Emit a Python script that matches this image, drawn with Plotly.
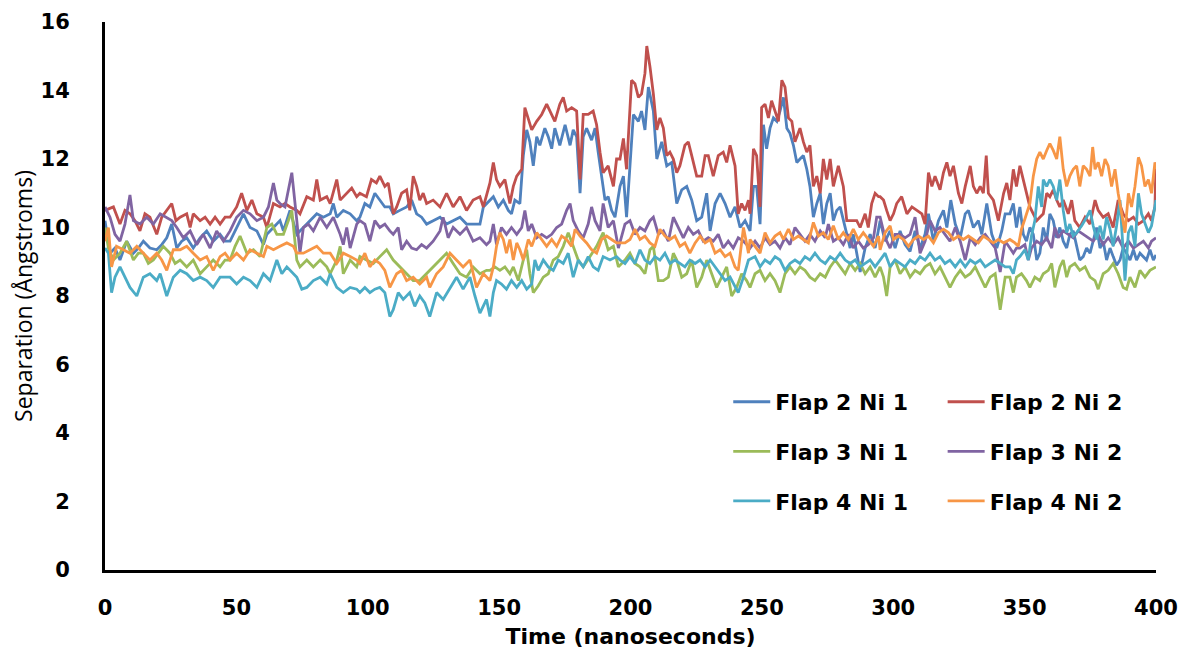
import plotly.graph_objects as go

# ---------------- data (time in ns, separation in Angstrom) ----------------
t_f2n1 = [0, 1.9, 3.8, 5.7, 8.25, 10.8, 12.7, 14.6, 17.1, 19.7, 21.6, 23.5, 25.4, 27.3, 29.2, 31.1, 33.6, 36.2, 38.7, 41.2, 43.8, 45.7,
          47.6, 50.1, 52.7, 55.2, 57.8, 60.3, 61.6, 64.1, 66.6, 67.9, 70.4, 73.0, 75.5, 78.1, 80.6, 83.1, 85.7, 86.9, 88.2, 90.7, 93.3, 95.8,
          97.0, 98.9, 100.8, 102.7, 104.6, 106.5, 108.4, 109.7, 112.2, 114.8, 116.7, 118.6, 120.5, 122.4, 124.9, 127.5, 130.0, 132.5, 135.1, 137.6, 140.1, 142.7, 144.0,
          146.5, 147.8, 149.7, 151.6, 153.5, 154.7, 156.0, 157.9, 159.2, 160.5, 161.7, 163.0, 164.3, 165.5, 167.4, 168.7, 170.0, 171.2, 173.1, 175.1, 177.0, 178.2, 179.5, 180.8, 182.0, 183.3, 185.2, 186.5, 187.7, 189.0, 190.3, 191.5, 192.8, 194.1, 195.4,
          196.0, 197.3, 198.5, 201.1, 203.0, 204.2, 205.5, 206.8, 208.7, 210.0, 211.9, 213.8, 215.7, 217.6, 219.5, 221.4, 223.3, 225.2, 227.1, 229.0, 230.3, 232.2, 234.1, 236.0, 237.9, 239.8, 241.7, 243.6,
          245.5, 246.8, 248.0, 249.3, 250.6, 251.8, 253.1, 254.4, 255.7, 256.9, 258.2, 259.5, 260.7, 262.0, 263.3, 264.5, 265.8, 267.1, 268.3, 269.6, 270.9, 272.2, 273.4, 274.7, 276.0, 277.2, 278.5, 279.8, 281.0, 282.3, 283.6, 284.8, 286.1, 287.4, 289.3, 291.2, 293.1,
          295.0, 296.9, 298.8, 300.7, 302.6, 304.5, 306.4, 308.3, 310.2, 312.1, 313.4, 315.3, 317.2, 319.1, 320.4, 321.9, 323.6, 325.5, 327.4, 328.6, 330.5, 332.4, 333.7, 335.6, 337.5, 339.4, 341.3, 342.6,
          344.4, 345.7, 346.9, 348.2, 349.5, 350.7, 352.0, 353.3, 354.6, 355.8, 357.1, 358.4, 359.6, 360.9, 362.2, 363.4, 364.7, 366.0, 367.2, 368.5, 369.8, 371.0, 372.3, 373.6, 374.9, 376.1, 377.4, 378.7, 379.9, 381.2, 382.5, 383.7, 385.0, 386.3, 387.5, 388.8, 390.1, 391.4, 392.6, 393.9, 395.2, 396.4, 397.7, 399.0, 400.0]
v_f2n1 = [10.2, 9.25, 9.4, 9.05, 9.6, 9.25, 9.4, 9.6, 9.4, 9.35, 9.5, 9.7, 10.1, 9.4, 9.6, 9.7, 9.4, 9.7, 9.9, 9.6, 9.8, 9.6,
          9.6, 10.0, 10.4, 10.0, 9.9, 9.5, 9.8, 10.0, 10.2, 9.9, 10.5, 9.8, 10.0, 10.2, 10.4, 10.3, 10.4, 10.7, 10.3, 10.5, 10.4, 10.2,
          10.3, 10.7, 10.6, 11.0, 10.8, 10.6, 10.6, 10.4, 10.5, 10.6, 10.8, 10.4, 10.3, 10.1, 10.2, 10.3, 10.1, 10.2, 10.3, 10.1, 10.1, 10.1, 10.6,
          10.8, 10.9, 10.6, 10.8, 10.5, 10.4, 10.8, 10.7, 12.1, 12.85, 12.5, 11.8, 12.65, 12.4, 12.9, 12.65, 12.3, 12.9, 12.4, 13.0, 12.4, 12.85, 12.65, 11.0, 12.65, 12.9, 12.55, 12.9, 12.2, 11.5, 10.8, 10.9, 10.5, 10.3, 11.0,
          11.2, 11.5, 10.3, 13.3, 13.1, 13.4, 12.85, 14.1, 13.4, 12.0, 12.5, 11.8, 11.9, 10.7, 11.1, 11.2, 10.8, 10.2, 10.3, 11.0, 9.9, 10.7, 11.0, 10.7, 10.3, 10.6, 10.0, 10.2,
          9.9, 11.2, 11.2, 10.1, 13.0, 12.3, 12.9, 13.2, 13.1, 13.4, 13.8, 12.9, 12.75, 12.4, 11.9, 12.0, 12.1, 11.7, 11.2, 10.3, 10.7, 11.0, 10.1, 10.7, 11.0, 10.2, 10.5, 10.6, 10.2, 9.8, 9.4, 9.8, 9.25, 8.7, 9.4, 9.8, 9.4,
          10.2, 9.6, 9.9, 9.4, 9.9, 9.5, 9.3, 9.9, 9.4, 9.8, 10.4, 9.6, 10.2, 10.5, 10.0, 10.8, 10.1, 9.7, 10.4, 10.5, 10.0, 10.2, 9.8, 10.7, 9.8, 9.4, 9.9, 10.4,
          10.4, 10.7, 10.0, 10.6, 9.8, 9.6, 10.0, 9.8, 9.05, 9.25, 10.0, 9.6, 10.4, 10.2, 9.7, 10.0, 9.6, 9.4, 9.8, 9.9, 9.5, 9.05, 9.15, 9.4, 9.25, 9.6, 10.0, 9.4, 9.6, 9.05, 9.4, 9.15, 8.9, 9.05, 9.4, 9.25, 9.05, 9.35, 9.05, 9.25, 9.15, 9.05, 9.35, 9.05, 9.2]

t_f2n2 = [0, 3.2, 5.7, 7.6, 9.5, 11.4, 13.3, 15.2, 17.1, 19.7, 21.6, 23.5, 25.4, 27.0, 28.6, 31.1, 32.4, 33.6, 36.2, 38.1, 40.0, 41.9, 43.8, 45.7,
          47.6, 50.1, 52.0, 54.0, 55.9, 57.8, 60.3, 61.6, 64.1, 66.6, 68.5, 70.4, 73.0, 74.2, 76.8, 79.3, 80.6, 81.9, 84.4, 85.7, 88.2, 89.5, 92.0, 93.9, 95.8,
          97.0, 99.5, 101.4, 103.3, 104.6, 106.5, 107.8, 109.7, 111.0, 112.9, 114.8, 116.0, 117.3, 118.6, 119.8, 121.1, 122.4, 124.9, 127.5, 130.0, 132.5, 135.1, 137.6, 140.1, 142.7, 144.0,
          146.5, 147.8, 149.0, 150.3, 152.2, 154.1, 155.4, 156.7, 158.6, 159.8, 161.1, 162.4, 164.3, 166.2, 168.1, 170.0, 171.2, 173.1, 174.4, 175.7, 177.6, 179.5, 180.8, 182.0, 183.9, 185.8, 187.1, 188.4, 189.6, 191.5, 193.5, 194.7,
          196.0, 197.3, 198.5, 200.4, 201.7, 203.0, 204.2, 205.5, 206.2, 207.4, 208.7, 210.0, 211.2, 212.5, 213.8, 215.0, 216.3, 217.6, 218.8, 220.7, 222.0, 223.3, 225.2, 227.1, 228.4, 229.6, 231.5, 233.4, 235.3, 236.6, 237.9, 239.8, 241.0, 242.3, 243.6, 244.9,
          245.5, 246.8, 248.0, 249.3, 249.9, 251.2, 252.5, 253.7, 255.0, 256.3, 257.6, 258.8, 260.1, 261.4, 262.6, 264.5, 265.8, 267.1, 268.3, 269.6, 270.9, 272.2, 273.4, 274.7, 276.0, 277.2, 279.1, 281.0, 282.3, 284.2, 286.1, 287.4, 289.3, 290.5, 291.8, 293.1, 294.4,
          295.0, 296.3, 297.5, 298.8, 300.1, 301.3, 303.2, 305.2, 307.1, 309.0, 310.9, 312.1, 313.4, 314.7, 315.9, 317.8, 319.1, 320.4, 321.6, 322.9, 324.8, 326.1, 327.4, 329.3, 330.5, 331.8, 333.1, 334.3, 335.4, 336.2, 338.1, 340.0, 342.0, 343.2,
          344.4, 345.7, 346.9, 348.2, 349.5, 350.7, 352.0, 353.3, 354.6, 355.8, 357.1, 358.4, 359.6, 360.9, 362.2, 363.4, 364.7, 366.6, 367.9, 369.1, 371.0, 373.0, 374.9, 376.8, 378.0, 379.9, 381.8, 383.7, 385.6, 387.5, 389.5, 391.4, 393.3, 395.2, 397.1, 398.3, 399.6, 400.0]
v_f2n2 = [10.5, 10.6, 10.1, 10.5, 10.4, 10.2, 9.9, 10.4, 10.3, 9.8, 10.3, 10.5, 10.7, 10.2, 10.3, 10.4, 10.0, 10.4, 10.2, 10.3, 10.1, 10.3, 10.1, 10.3,
          10.3, 10.6, 11.0, 10.5, 10.8, 10.4, 10.3, 10.0, 10.7, 10.6, 10.7, 10.6, 10.5, 10.4, 10.9, 10.8, 11.4, 10.8, 10.9, 10.7, 11.4, 10.8, 11.0, 11.15, 10.9,
          11.0, 10.9, 11.4, 11.3, 11.5, 11.2, 11.3, 10.4, 10.6, 11.0, 11.1, 10.5, 11.5, 11.2, 10.8, 11.0, 10.7, 10.8, 10.6, 11.0, 10.6, 10.9, 10.5, 10.8, 10.9, 10.6,
          11.3, 11.9, 11.4, 11.2, 11.4, 10.7, 11.2, 11.5, 11.7, 13.5, 13.2, 12.85, 13.1, 13.3, 13.6, 13.3, 13.1, 13.6, 13.8, 13.4, 13.5, 13.4, 11.4, 13.3, 13.3, 13.4, 13.0, 12.2, 11.6, 11.8, 11.2, 12.0,
          12.0, 12.6, 11.7, 14.3, 14.2, 13.8, 13.9, 14.5, 15.3, 14.7, 13.9, 12.85, 13.2, 12.9, 12.1, 12.2, 12.0, 11.6, 11.8, 12.4, 12.5, 12.1, 11.5, 11.5, 12.1, 12.1, 11.5, 12.1, 12.2, 11.9, 12.4, 11.8, 10.4, 10.7, 10.5, 10.8,
          10.4, 12.3, 12.1, 10.6, 13.5, 13.6, 13.2, 13.7, 13.4, 13.1, 14.3, 14.1, 13.2, 13.1, 12.5, 12.9, 12.5, 12.2, 12.4, 11.2, 11.5, 11.0, 12.0, 11.4, 12.0, 11.2, 11.8, 11.2, 10.2, 10.2, 10.2, 10.0, 10.4, 10.0, 10.7, 11.0, 10.9,
          10.9, 10.8, 10.5, 10.2, 10.4, 10.7, 10.9, 10.4, 10.6, 10.5, 10.4, 10.1, 11.6, 11.2, 11.5, 11.1, 11.6, 11.9, 11.5, 11.8, 11.0, 10.7, 11.2, 11.8, 11.2, 11.0, 11.2, 11.0, 12.1, 11.0, 10.8, 10.2, 11.0, 11.3,
          10.8, 11.7, 11.2, 11.8, 11.4, 11.0, 10.6, 10.4, 10.2, 10.3, 10.4, 11.0, 10.9, 11.1, 10.8, 10.6, 10.8, 10.4, 10.8, 10.2, 10.0, 10.3, 10.1, 10.8, 10.5, 10.3, 10.4, 10.0, 10.8, 10.4, 10.2, 10.3, 10.1, 10.2, 10.4, 10.2, 10.6, 11.9]

t_f3n1 = [0, 1.3, 3.2, 5.7, 8.25, 10.8, 12.7, 14.6, 16.5, 18.4, 20.3, 22.2, 24.7, 26.7, 28.6, 31.1, 33.6, 36.2, 38.7, 41.2, 43.8, 45.7,
          47.6, 49.5, 51.4, 54.0, 56.5, 59.0, 61.6, 63.5, 65.4, 67.9, 69.8, 71.1, 73.0, 74.2, 76.8, 79.3, 81.9, 84.4, 85.7, 88.2, 89.5, 90.7, 93.3, 95.8,
          97.0, 99.5, 102.1, 104.6, 107.2, 109.7, 112.2, 114.8, 117.3, 119.8, 122.4, 124.9, 127.5, 130.0, 132.5, 135.1, 137.6, 140.1, 142.7, 145.2,
          146.5, 148.4, 150.3, 152.2, 154.1, 155.4, 157.3, 159.2, 160.5, 161.7, 163.0, 164.9, 166.8, 168.7, 170.6, 172.5, 174.4, 176.3, 178.2, 180.1, 182.0, 184.6, 187.1, 189.6, 191.5, 193.5, 195.4,
          197.9, 199.8, 201.7, 203.6, 205.5, 207.4, 208.7, 210.6, 212.5, 214.4, 216.3, 217.6, 219.5, 221.4, 223.3, 225.2, 227.1, 229.0, 230.9, 232.8, 234.7, 236.6, 238.5, 240.4, 242.3, 244.2,
          245.5, 247.4, 249.3, 251.2, 253.1, 255.0, 256.9, 258.8, 260.7, 262.6, 264.5, 266.4, 268.3, 270.2, 272.2, 274.1, 276.0, 277.9, 279.8, 281.7, 283.6, 285.5, 287.4, 289.3, 291.2, 293.1,
          295.0, 296.3, 297.5, 298.8, 300.7, 302.6, 304.5, 306.4, 308.3, 310.2, 312.1, 314.0, 315.9, 317.8, 319.7, 321.6, 323.6, 325.5, 327.4, 329.3, 331.2, 333.1, 335.0, 336.9, 338.8, 340.7, 342.6,
          344.4, 345.7, 346.9, 348.8, 350.7, 352.0, 353.9, 355.8, 357.1, 359.0, 360.3, 361.5, 363.4, 364.7, 366.0, 367.2, 369.1, 371.0, 373.0, 374.9, 376.8, 378.0, 379.9, 381.8, 383.7, 385.6, 387.5, 388.8, 390.1, 392.0, 393.9, 395.8, 397.7, 400.0]
v_f3n1 = [10.0, 9.4, 9.05, 9.25, 9.6, 9.05, 9.25, 9.25, 8.95, 9.05, 9.25, 9.45, 9.25, 8.95, 9.05, 8.85, 9.05, 8.65, 8.85, 9.05, 8.85, 9.05,
          9.05, 9.45, 9.75, 9.25, 9.35, 9.15, 10.0, 10.1, 9.8, 9.8, 10.2, 10.5, 9.05, 8.85, 9.05, 8.85, 9.05, 8.85, 8.65, 9.05, 9.45, 8.65, 9.05, 8.85,
          9.15, 9.05, 8.95, 9.15, 9.35, 9.05, 8.85, 8.65, 8.45, 8.45, 8.65, 8.85, 9.05, 9.25, 8.95, 8.65, 8.55, 8.85, 8.65, 8.75,
          8.75, 8.85, 8.75, 8.85, 8.65, 8.85, 8.45, 9.05, 9.35, 8.65, 8.1, 8.3, 8.55, 8.65, 9.05, 9.15, 9.45, 9.85, 9.45, 9.05, 8.85, 9.15, 9.45, 9.85, 9.35, 9.45, 8.85,
          9.05, 9.25, 8.95, 8.85, 8.65, 9.35, 9.45, 8.45, 8.45, 8.55, 9.25, 9.05, 8.55, 8.65, 9.05, 8.25, 8.55, 9.05, 8.65, 8.25, 8.55, 8.85, 8.0, 8.25, 8.65, 8.45,
          8.25, 8.65, 8.75, 8.45, 8.65, 8.45, 8.1, 8.65, 8.85, 8.65, 8.85, 8.75, 8.55, 8.45, 8.65, 8.55, 8.85, 9.05, 8.85, 8.65, 8.95, 8.75, 8.95, 8.65, 8.85, 8.55,
          8.85, 8.55, 8.0, 8.85, 9.05, 8.65, 8.85, 8.55, 8.75, 8.65, 8.85, 8.95, 8.65, 8.85, 8.55, 8.25, 8.55, 8.75, 8.55, 8.65, 8.85, 8.55, 8.25, 8.55, 8.65, 7.6, 8.55,
          8.55, 8.1, 8.55, 8.65, 8.45, 8.25, 8.55, 8.45, 8.65, 8.75, 8.95, 8.25, 8.85, 9.05, 8.55, 8.85, 8.95, 8.75, 8.85, 8.55, 8.45, 8.2, 8.65, 8.75, 8.95, 8.65, 8.25, 8.2, 8.55, 8.25, 8.75, 8.55, 8.75, 8.85]

t_f3n2 = [0, 1.9, 3.8, 5.7, 7.6, 9.5, 10.8, 13.3, 15.9, 18.4, 21.0, 23.5, 25.4, 27.3, 29.8, 32.4, 34.9, 37.4, 40.0, 42.5, 45.1,
          47.6, 50.1, 52.7, 55.2, 57.8, 60.3, 62.2, 64.1, 65.4, 66.6, 68.5, 70.4, 71.1, 73.0, 74.2, 75.5, 77.4, 79.3, 81.9, 84.4, 86.9, 89.5, 90.7, 92.0, 93.3, 95.8,
          97.0, 98.9, 100.8, 102.7, 104.6, 106.5, 108.4, 109.7, 111.6, 112.9, 114.8, 116.7, 118.6, 120.5, 122.4, 124.9, 127.5, 128.7, 130.6, 132.5, 135.1, 137.6, 140.1, 142.7, 145.2,
          146.5, 147.8, 149.0, 150.9, 152.8, 154.7, 156.7, 158.6, 159.8, 161.1, 162.4, 164.3, 166.2, 168.1, 170.0, 171.9, 173.8, 175.7, 177.0, 178.2, 180.1, 182.0, 183.9, 185.2, 186.5, 188.4, 189.6, 191.5, 193.5, 195.4,
          197.9, 199.8, 201.7, 203.6, 205.5, 207.4, 208.7, 210.6, 212.5, 214.4, 216.3, 218.2, 220.1, 222.0, 223.9, 225.8, 227.7, 229.6, 231.5, 233.4, 235.3, 237.2, 239.1, 241.0, 243.0,
          245.5, 247.4, 249.3, 251.2, 253.1, 255.0, 256.9, 258.8, 260.7, 262.6, 264.5, 266.4, 268.3, 270.2, 272.2, 274.1, 275.3, 277.2, 279.1, 281.0, 282.9, 284.8, 286.7, 288.6, 290.5, 292.5, 293.7,
          295.0, 296.9, 298.8, 300.7, 302.6, 304.5, 306.4, 308.3, 310.2, 312.1, 314.0, 315.9, 317.8, 319.7, 321.6, 323.6, 325.5, 327.4, 329.3, 331.2, 333.1, 335.0, 336.9, 338.8, 340.7, 342.6,
          344.4, 345.7, 346.9, 348.2, 350.1, 351.4, 352.6, 354.6, 356.5, 358.4, 360.3, 361.5, 362.8, 364.7, 366.6, 368.5, 370.4, 372.3, 374.2, 376.1, 378.0, 379.9, 381.8, 383.7, 385.6, 387.5, 389.5, 391.4, 393.3, 395.2, 397.1, 398.3, 400.0]
v_f3n2 = [10.6, 10.3, 9.8, 9.6, 10.1, 10.95, 10.2, 10.1, 10.3, 10.1, 10.4, 10.3, 10.2, 10.0, 9.7, 9.9, 9.5, 9.8, 9.4, 9.9, 9.6,
          9.9, 10.3, 10.5, 10.4, 10.2, 10.3, 10.6, 11.3, 10.8, 10.7, 10.6, 11.4, 11.6, 10.2, 9.25, 10.0, 10.1, 9.9, 10.3, 10.0, 10.3, 9.8, 9.5, 10.0, 9.4, 10.1,
          10.2, 10.1, 9.6, 10.2, 10.0, 10.1, 9.9, 9.8, 10.0, 9.35, 9.6, 9.4, 9.35, 9.5, 9.4, 9.6, 9.9, 10.3, 9.7, 10.0, 9.8, 10.0, 9.6, 9.7, 9.5,
          9.6, 10.1, 9.5, 10.0, 9.8, 10.0, 9.8, 10.0, 10.5, 9.9, 10.1, 9.7, 9.8, 9.7, 9.8, 10.0, 10.1, 10.5, 10.7, 10.2, 9.9, 9.7, 10.1, 10.6, 10.2, 9.9, 10.7, 10.0, 10.2, 9.4,
          10.1, 10.2, 9.8, 10.0, 9.9, 10.2, 10.3, 9.8, 9.9, 9.6, 10.3, 10.0, 9.7, 10.0, 9.8, 9.9, 9.6, 9.7, 9.6, 9.8, 9.4, 9.6, 9.4, 9.7, 9.6,
          9.4, 9.6, 9.4, 9.7, 9.5, 9.6, 9.4, 9.7, 9.5, 10.0, 9.8, 9.6, 9.8, 9.6, 9.9, 9.7, 10.1, 9.6, 9.7, 9.5, 9.8, 9.4, 9.6, 9.4, 9.5, 9.7, 10.3,
          10.3, 9.7, 9.4, 9.8, 9.8, 9.7, 9.8, 10.3, 9.25, 9.6, 10.2, 9.9, 10.0, 9.8, 9.6, 10.0, 9.6, 9.05, 9.7, 9.5, 9.7, 9.8, 9.6, 9.4, 8.7, 9.6,
          9.4, 9.25, 9.4, 9.4, 9.5, 9.05, 9.4, 9.6, 9.5, 9.7, 9.4, 10.0, 9.7, 9.9, 9.8, 9.7, 9.9, 9.8, 9.7, 9.6, 9.8, 9.5, 9.7, 9.5, 9.7, 9.4, 9.6, 9.4, 9.5, 9.6, 9.4, 9.6, 9.7]

t_f4n1 = [0, 1.3, 2.5, 3.8, 5.7, 7.6, 9.5, 12.1, 14.6, 17.1, 19.7, 21.0, 23.5, 26.0, 28.6, 31.1, 33.6, 36.2, 38.7, 41.2, 43.8, 45.7,
          47.6, 50.1, 52.7, 55.2, 57.8, 60.3, 62.8, 65.4, 67.3, 69.2, 71.7, 73.0, 74.9, 76.8, 79.3, 81.9, 84.4, 85.7, 88.2, 90.7, 93.3, 95.8,
          97.0, 98.9, 100.8, 102.7, 104.6, 106.5, 108.4, 109.7, 111.6, 113.5, 116.0, 117.9, 119.8, 121.7, 123.6, 126.2, 128.7, 131.3, 133.8, 136.3, 138.9, 140.8, 142.7, 145.2,
          146.5, 147.8, 149.0, 150.9, 152.8, 154.7, 156.7, 158.6, 160.5, 162.4, 163.6, 164.9, 166.8, 168.7, 170.6, 172.5, 174.4, 176.3, 178.2, 180.1, 182.0, 183.9, 185.8, 187.7, 189.6, 192.2, 194.7,
          196.0, 197.9, 199.8, 201.7, 203.6, 205.5, 207.4, 209.3, 211.2, 213.1, 215.0, 216.9, 218.8, 220.7, 222.6, 224.6, 226.5, 228.4, 230.3, 232.2, 234.1, 236.0, 237.9, 239.8, 241.0, 243.0, 244.9,
          247.4, 249.3, 251.2, 253.1, 255.0, 256.9, 258.8, 260.7, 262.6, 264.5, 266.4, 268.3, 270.2, 272.2, 274.1, 276.0, 277.9, 279.8, 281.7, 283.6, 285.5, 287.4, 289.3, 291.2, 293.1,
          295.0, 296.9, 298.8, 300.7, 302.6, 304.5, 306.4, 308.3, 310.2, 312.1, 314.0, 315.9, 317.8, 319.7, 321.6, 323.6, 325.5, 327.4, 329.3, 331.2, 333.1, 335.0, 336.9, 338.8, 340.7, 342.6,
          344.4, 345.7, 346.9, 348.2, 350.1, 351.4, 352.6, 353.9, 355.2, 356.5, 357.1, 358.4, 359.6, 360.9, 362.2, 363.4, 364.7, 366.0, 367.2, 368.5, 369.8, 371.7, 373.6, 374.9, 376.1, 377.4, 378.7, 379.9, 381.2, 382.5, 383.7, 385.0, 386.3, 387.5, 388.2, 389.5, 390.7, 392.0, 393.3, 394.5, 395.8, 397.1, 398.3, 400.0]
v_f4n1 = [9.4, 9.25, 8.1, 8.55, 8.85, 8.55, 8.25, 8.0, 8.55, 8.65, 8.45, 8.65, 8.0, 8.55, 8.75, 8.65, 8.45, 8.55, 8.45, 8.25, 8.55, 8.55,
          8.55, 8.35, 8.55, 8.45, 8.25, 8.65, 8.45, 9.05, 8.65, 8.85, 8.65, 8.55, 8.2, 8.25, 8.45, 8.55, 8.35, 8.65, 8.25, 8.1, 8.25, 8.2,
          8.1, 8.25, 8.1, 8.2, 8.25, 8.1, 7.4, 7.6, 8.1, 7.9, 8.1, 7.7, 8.0, 7.8, 7.4, 8.1, 7.9, 8.25, 8.55, 8.2, 8.55, 8.0, 7.5, 7.9,
          7.4, 8.1, 8.45, 8.35, 8.2, 8.45, 8.25, 8.45, 8.2, 8.35, 9.05, 8.75, 9.05, 8.85, 8.75, 9.05, 8.95, 9.25, 8.55, 9.05, 8.85, 9.15, 8.85, 8.75, 9.15, 9.05, 9.15,
          9.05, 8.95, 9.15, 8.95, 9.35, 9.05, 8.95, 9.15, 9.05, 9.25, 8.95, 9.05, 8.95, 8.85, 9.05, 8.95, 9.05, 8.85, 9.05, 8.85, 8.65, 8.45, 8.55, 8.25, 8.1, 8.55, 9.05,
          9.15, 8.85, 9.05, 8.95, 9.15, 9.05, 8.75, 8.95, 9.05, 8.95, 9.15, 9.05, 9.25, 9.05, 8.95, 9.15, 9.05, 9.25, 9.05, 8.95, 9.05, 8.85, 8.95, 9.05, 8.85,
          9.05, 9.25, 8.85, 9.05, 8.95, 8.85, 9.05, 8.95, 9.15, 9.05, 9.25, 9.05, 9.15, 8.95, 9.05, 8.85, 9.05, 8.85, 9.05, 8.95, 9.05, 8.85, 8.95, 9.05, 8.95, 8.85,
          8.85, 8.65, 9.05, 9.15, 9.35, 9.05, 9.75, 10.2, 11.2, 10.6, 11.4, 11.2, 11.4, 11.2, 10.8, 11.4, 10.5, 9.85, 10.1, 9.75, 9.85, 10.05, 10.3, 10.5, 10.05, 9.65, 10.05, 9.65, 10.3, 9.95, 9.45, 10.05, 10.8, 9.45, 8.45, 9.85, 10.05, 9.45, 11.0, 10.4, 10.1, 9.85, 10.05, 10.8]

t_f4n2 = [0, 1.3, 2.5, 4.4, 7.0, 9.5, 12.1, 14.6, 17.1, 19.7, 21.6, 23.5, 26.0, 28.6, 31.1, 33.6, 36.2, 38.7, 41.2, 43.8, 45.7,
          47.6, 50.1, 52.7, 55.2, 57.8, 60.3, 61.6, 64.1, 66.6, 69.2, 71.7, 73.0, 75.5, 78.1, 80.6, 83.1, 85.7, 88.2, 90.7, 93.3, 95.8,
          97.0, 98.9, 100.8, 102.7, 104.6, 106.5, 108.4, 111.0, 112.9, 114.8, 117.3, 119.8, 122.4, 123.6, 126.2, 128.7, 131.3, 133.8, 136.3, 138.9, 141.4, 144.0,
          146.5, 147.8, 149.0, 150.3, 151.6, 152.8, 154.1, 155.4, 156.7, 157.9, 159.2, 161.1, 162.4, 164.3, 166.2, 168.1, 170.0, 171.9, 173.8, 175.7, 177.6, 178.9, 180.8, 183.3, 185.2, 187.1, 189.0, 190.9, 192.8, 194.7,
          196.0, 197.9, 199.8, 201.7, 203.6, 205.5, 207.4, 209.3, 211.2, 213.1, 215.0, 216.9, 218.8, 220.7, 222.6, 224.6, 226.5, 228.4, 230.3, 232.2, 234.1, 236.0, 237.9, 239.8, 241.0, 243.0, 244.9,
          245.5, 247.4, 249.3, 251.2, 253.1, 255.0, 256.9, 258.2, 260.1, 262.0, 263.9, 265.8, 267.7, 269.6, 271.5, 273.4, 275.3, 277.2, 279.1, 281.0, 282.9, 284.8, 286.7, 288.6, 290.5, 292.5, 294.4,
          295.0, 296.9, 298.8, 300.1, 302.0, 303.9, 305.8, 307.7, 309.6, 311.5, 313.4, 315.3, 317.2, 319.1, 321.0, 322.9, 324.8, 326.7, 328.6, 330.5, 332.4, 334.3, 336.2, 338.1, 340.0, 342.0,
          344.4, 346.3, 347.6, 348.8, 350.1, 352.0, 353.3, 354.6, 355.8, 357.1, 358.4, 359.6, 360.9, 362.2, 363.4, 364.7, 366.0, 367.2, 368.5, 369.8, 371.0, 372.3, 373.6, 374.9, 375.9, 376.8, 378.0, 379.3, 380.6, 381.8, 383.1, 384.4, 385.6, 386.9, 388.2, 389.5, 390.7, 392.0, 393.3, 394.5, 395.8, 397.1, 398.3, 399.6, 400.0]
v_f4n2 = [9.6, 10.0, 8.85, 9.45, 9.35, 9.25, 9.45, 9.25, 9.05, 9.25, 9.05, 8.75, 9.35, 9.35, 9.45, 9.25, 9.05, 9.15, 8.75, 9.15, 9.25,
          9.05, 9.25, 9.05, 9.35, 9.25, 9.15, 9.45, 9.35, 9.45, 9.55, 9.45, 9.25, 9.25, 9.35, 9.45, 9.25, 9.25, 8.95, 9.25, 9.15, 9.05,
          8.95, 9.25, 8.85, 9.05, 8.95, 8.75, 8.25, 8.65, 8.75, 8.45, 8.55, 8.35, 8.55, 8.25, 8.65, 8.85, 9.25, 9.05, 8.85, 9.05, 8.25, 8.65,
          8.45, 8.85, 9.45, 9.85, 9.65, 9.25, 9.65, 9.05, 9.55, 9.35, 9.05, 9.65, 9.45, 9.85, 9.65, 9.45, 9.65, 9.45, 9.75, 9.65, 9.45, 9.95, 9.75, 9.55, 9.35, 9.25, 9.65, 9.75, 9.65, 9.55,
          9.55, 9.55, 9.65, 9.95, 9.65, 9.75, 9.55, 9.45, 9.95, 9.75, 9.65, 9.75, 9.45, 9.55, 9.25, 9.55, 9.75, 9.55, 9.65, 9.25, 9.35, 9.15, 9.25, 8.85, 8.75, 10.0, 9.25,
          9.65, 9.45, 9.25, 9.85, 9.55, 9.75, 9.85, 9.65, 9.95, 9.65, 9.75, 9.65, 9.55, 10.15, 9.75, 9.85, 9.65, 10.05, 9.65, 9.85, 9.65, 9.95, 9.65, 9.85, 9.65, 9.45, 9.75,
          9.35, 9.85, 10.05, 9.65, 9.75, 9.65, 9.45, 9.65, 9.75, 9.65, 9.75, 9.55, 9.85, 9.95, 9.85, 9.65, 9.75, 9.65, 9.75, 9.65, 9.55, 9.75, 9.65, 9.55, 9.65, 9.55,
          9.65, 9.55, 9.45, 9.95, 10.25, 10.7, 11.5, 12.0, 12.2, 12.0, 12.25, 12.45, 12.25, 12.0, 12.65, 11.7, 11.2, 11.5, 11.7, 11.8, 11.2, 11.8, 11.7, 11.5, 12.35, 11.7, 11.9, 11.5, 12.0, 11.8, 11.2, 11.7, 11.0, 10.4, 9.85, 11.0, 10.6, 11.2, 12.05, 11.8, 11.2, 11.4, 11.0, 11.9, 11.7]

series_names = ["Flap 2 Ni 1", "Flap 2 Ni 2", "Flap 3 Ni 1", "Flap 3 Ni 2", "Flap 4 Ni 1", "Flap 4 Ni 2"]
x_ticks = [0, 50, 100, 150, 200, 250, 300, 350, 400]
y_ticks = [0, 2, 4, 6, 8, 10, 12, 14, 16]

# ---------------- styling ----------------
colors = {"Flap 2 Ni 1": "#4F81BD", "Flap 2 Ni 2": "#C0504D", "Flap 3 Ni 1": "#9BBB59",
          "Flap 3 Ni 2": "#8064A2", "Flap 4 Ni 1": "#4BACC6", "Flap 4 Ni 2": "#F79646"}
legend_of = {"Flap 2 Ni 1": "legend", "Flap 3 Ni 1": "legend", "Flap 4 Ni 1": "legend",
             "Flap 2 Ni 2": "legend2", "Flap 3 Ni 2": "legend2", "Flap 4 Ni 2": "legend2"}
data = {"Flap 2 Ni 1": (t_f2n1, v_f2n1), "Flap 2 Ni 2": (t_f2n2, v_f2n2),
        "Flap 3 Ni 1": (t_f3n1, v_f3n1), "Flap 3 Ni 2": (t_f3n2, v_f3n2),
        "Flap 4 Ni 1": (t_f4n1, v_f4n1), "Flap 4 Ni 2": (t_f4n2, v_f4n2)}

fig = go.Figure()
for name in series_names:
    t, v = data[name]
    assert len(t) == len(v), (name, len(t), len(v))
    fig.add_trace(go.Scatter(x=t, y=v, mode="lines", name=name, legendgroup=name,
                             legend=legend_of[name],
                             line=dict(color=colors[name], width=2.8)))

tick_font = dict(family="DejaVu Sans", size=21, color="black", weight="bold")
leg_font = dict(family="DejaVu Sans", size=22, color="black", weight="bold")

fig.update_layout(
    width=1182, height=653,
    margin=dict(l=105, r=26, t=22, b=83, autoexpand=False),
    plot_bgcolor="white", paper_bgcolor="white",
    showlegend=True,
    legend=dict(x=0.593, y=0.345, xanchor="left", yanchor="top", font=leg_font,
                bgcolor="rgba(0,0,0,0)", traceorder="grouped", tracegroupgap=18,
                itemwidth=37),
    legend2=dict(x=0.797, y=0.345, xanchor="left", yanchor="top", font=leg_font,
                 bgcolor="rgba(0,0,0,0)", traceorder="grouped", tracegroupgap=18,
                 itemwidth=37),
    xaxis=dict(range=[0, 400], tickvals=x_ticks, showgrid=False, zeroline=False,
               showline=True, linecolor="black", linewidth=3, ticks="",
               ticklabelstandoff=17, tickfont=tick_font,
               title=dict(text="Time (nanoseconds)", standoff=10,
                          font=dict(family="DejaVu Sans", size=22, color="black", weight="bold"))),
    yaxis=dict(range=[0, 16], tickvals=y_ticks, showgrid=False, zeroline=False,
               showline=True, linecolor="black", linewidth=3, ticks="",
               ticklabelstandoff=28, tickfont=tick_font,
               title=dict(text="Separation (Ångstroms)", standoff=2,
                          font=dict(family="Open Sans", size=23, color="black"))),
)

fig.write_html("out.html")
